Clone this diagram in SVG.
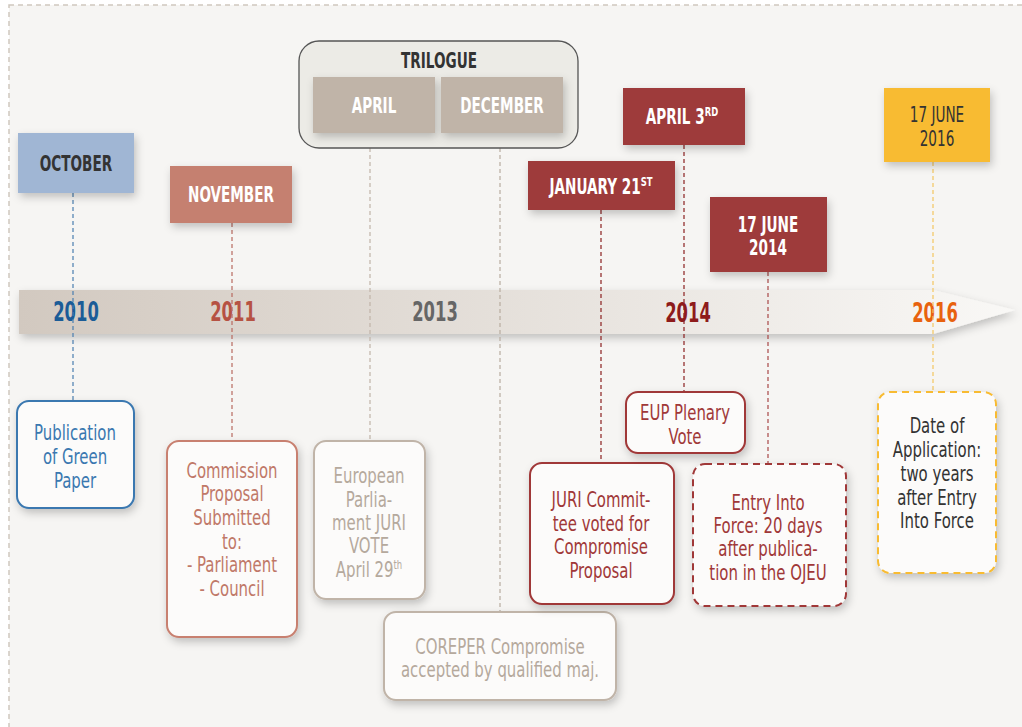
<svg xmlns="http://www.w3.org/2000/svg" width="1022" height="727" viewBox="0 0 1022 727">
<defs>
<filter id="sh" x="-20%" y="-20%" width="150%" height="150%"><feDropShadow dx="2" dy="4" stdDeviation="4" flood-color="#000" flood-opacity="0.22"/></filter>
<linearGradient id="bar" x1="0" y1="0" x2="1" y2="0"><stop offset="0" stop-color="#d2c9c0"/><stop offset="1" stop-color="#f9f8f6"/></linearGradient>
<style>
text{font-family:"DejaVu Sans Condensed","DejaVu Sans",sans-serif;text-anchor:middle}
.h{font-weight:bold;font-size:21px;fill:#fff}
.hd{font-size:21px;fill:#333}
.yr{font-weight:bold;font-size:26px}
.t{font-size:21px}
.c{fill:none;stroke-width:1.2;stroke-dasharray:4 3}
.box{fill:#fcfbfa;stroke-width:2}
</style>
</defs>
<rect x="0" y="0" width="1022" height="727" fill="#fff"/>
<rect x="9" y="5" width="1030" height="740" fill="#f6f5f3" stroke="#cfc7be" stroke-width="1.5" stroke-dasharray="5 4"/>
<g id="timeline">
<path d="M19 290 H933 L1015 310 L933 334 H19 Z" fill="url(#bar)" filter="url(#sh)"/>
<g transform="translate(76 0) scale(.7 1)"><text class="yr" x="0" y="321" fill="#1b5c97">2010</text></g>
<g transform="translate(233 0) scale(.7 1)"><text class="yr" x="0" y="321" fill="#b65243">2011</text></g>
<g transform="translate(435 0) scale(.7 1)"><text class="yr" x="0" y="321" fill="#666">2013</text></g>
<g transform="translate(688 0) scale(.7 1)"><text class="yr" x="0" y="322" fill="#8e1b1b">2014</text></g>
<g transform="translate(935 0) scale(.7 1)"><text class="yr" x="0" y="322" fill="#e8620e">2016</text></g>
</g>
<g id="connectors">
<line class="c" x1="73" y1="193" x2="73" y2="401" stroke="#4a7eb0"/>
<line class="c" x1="232" y1="223" x2="232" y2="441" stroke="#b86a60"/>
<line class="c" x1="370" y1="148" x2="370" y2="441" stroke="#c0b4a8"/>
<line class="c" x1="500" y1="148" x2="500" y2="612" stroke="#b8aca0"/>
<line class="c" x1="601" y1="210" x2="601" y2="463" stroke="#8b2020"/>
<line class="c" x1="684" y1="145" x2="684" y2="392" stroke="#8b2020"/>
<line class="c" x1="768" y1="272" x2="768" y2="464" stroke="#a84848"/>
<line class="c" x1="933" y1="162" x2="933" y2="392" stroke="#f3c660" stroke-width="2"/>
</g>
<g id="trilogue">
<rect x="299" y="41" width="279" height="107" rx="20" fill="#ecebe6" stroke="#555" stroke-width="1.3"/>
<g transform="translate(439 0) scale(.72 1)"><text class="h" x="0" y="68" style="fill:#333">TRILOGUE</text></g>
</g>
<g id="april"><rect x="313" y="77" width="122" height="56" fill="#c0b4a8" filter="url(#sh)"/><g transform="translate(374 0) scale(.72 1)"><text class="h" x="0" y="113">APRIL</text></g></g>
<g id="december"><rect x="441" y="77" width="122" height="56" fill="#c0b4a8" filter="url(#sh)"/><g transform="translate(502 0) scale(.72 1)"><text class="h" x="0" y="113">DECEMBER</text></g></g>
<g id="october"><rect x="18" y="133" width="116" height="60" fill="#a0b6d4" filter="url(#sh)"/><g transform="translate(76 0) scale(.72 1)"><text class="h" x="0" y="171" style="fill:#333">OCTOBER</text></g></g>
<g id="november"><rect x="170" y="166" width="122" height="57" fill="#c58070" filter="url(#sh)"/><g transform="translate(231 0) scale(.72 1)"><text class="h" x="0" y="202">NOVEMBER</text></g></g>
<g id="april3"><rect x="623" y="88" width="122" height="57" fill="#9e3b3b" filter="url(#sh)"/><g transform="translate(682 0) scale(.72 1)"><text class="h" x="0" y="124">APRIL 3<tspan font-size="13" dy="-8">RD</tspan></text></g></g>
<g id="jan21"><rect x="528" y="161" width="147" height="49" fill="#9e3b3b" filter="url(#sh)"/><g transform="translate(601 0) scale(.72 1)"><text class="h" x="0" y="194">JANUARY 21<tspan font-size="13" dy="-8">ST</tspan></text></g></g>
<g id="june2014"><rect x="710" y="197" width="117" height="75" fill="#9e3b3b" filter="url(#sh)"/><g transform="translate(768 0) scale(.72 1)"><text class="h" x="0" y="232">17 JUNE</text><text class="h" x="0" y="255">2014</text></g></g>
<g id="june2016"><rect x="884" y="88" width="106" height="74" fill="#f8bb30" filter="url(#sh)"/><g transform="translate(937 0) scale(.72 1)"><text class="hd" x="0" y="122">17 JUNE</text><text class="hd" x="0" y="146">2016</text></g></g>
<g id="green-paper"><rect class="box" x="17" y="401" width="117" height="107" rx="12" stroke="#3a78b0" filter="url(#sh)"/>
<g transform="translate(75 0) scale(.79 1)"><text class="t" fill="#3a78b0"><tspan x="0" y="440">Publication</tspan><tspan x="0" y="464">of Green</tspan><tspan x="0" y="488">Paper</tspan></text></g></g>
<g id="commission"><rect class="box" x="167" y="441" width="130" height="196" rx="12" stroke="#c88070" filter="url(#sh)"/>
<g transform="translate(232 0) scale(.79 1)"><text class="t" fill="#c07868"><tspan x="0" y="478">Commission</tspan><tspan x="0" y="501">Proposal</tspan><tspan x="0" y="525">Submitted</tspan><tspan x="0" y="549">to:</tspan><tspan x="0" y="572">- Parliament</tspan><tspan x="0" y="596">- Council</tspan></text></g></g>
<g id="ep-juri"><rect class="box" x="314" y="441" width="111" height="158" rx="12" stroke="#c0b4a8" filter="url(#sh)"/>
<g transform="translate(369 0) scale(.79 1)"><text class="t" fill="#b5a99d"><tspan x="0" y="483">European</tspan><tspan x="0" y="507">Parlia-</tspan><tspan x="0" y="530">ment JURI</tspan><tspan x="0" y="553">VOTE</tspan><tspan x="0" y="577">April 29<tspan font-size="12" dy="-8">th</tspan></tspan></text></g></g>
<g id="coreper"><rect class="box" x="384" y="612" width="232" height="88" rx="12" stroke="#c0b4a8" filter="url(#sh)"/>
<g transform="translate(500 0) scale(.79 1)"><text class="t" fill="#b5a99d"><tspan x="0" y="654">COREPER Compromise</tspan><tspan x="0" y="677">accepted by qualified maj.</tspan></text></g></g>
<g id="juri-committee"><rect class="box" x="530" y="463" width="144" height="141" rx="12" stroke="#a03838" filter="url(#sh)"/>
<g transform="translate(601 0) scale(.79 1)"><text class="t" fill="#a03838"><tspan x="0" y="507">JURI Commit-</tspan><tspan x="0" y="531">tee voted for</tspan><tspan x="0" y="554">Compromise</tspan><tspan x="0" y="578">Proposal</tspan></text></g></g>
<g id="plenary"><rect class="box" x="626" y="392" width="119" height="61" rx="12" stroke="#a03838" filter="url(#sh)"/>
<g transform="translate(685 0) scale(.79 1)"><text class="t" fill="#a03838"><tspan x="0" y="420">EUP Plenary</tspan><tspan x="0" y="444">Vote</tspan></text></g></g>
<g id="entry-force"><rect class="box" x="693" y="464" width="153" height="142" rx="12" stroke="#a03838" stroke-dasharray="7 5" filter="url(#sh)"/>
<g transform="translate(768 0) scale(.79 1)"><text class="t" fill="#a03838"><tspan x="0" y="510">Entry Into</tspan><tspan x="0" y="533">Force: 20 days</tspan><tspan x="0" y="556">after publica-</tspan><tspan x="0" y="580">tion in the OJEU</tspan></text></g></g>
<g id="application"><rect class="box" x="878" y="392" width="118" height="181" rx="12" stroke="#f8bb30" stroke-dasharray="7 5" filter="url(#sh)"/>
<g transform="translate(937 0) scale(.79 1)"><text class="t" fill="#333"><tspan x="0" y="433">Date of</tspan><tspan x="0" y="457">Application:</tspan><tspan x="0" y="481">two years</tspan><tspan x="0" y="505">after Entry</tspan><tspan x="0" y="528">Into Force</tspan></text></g></g>
</svg>
